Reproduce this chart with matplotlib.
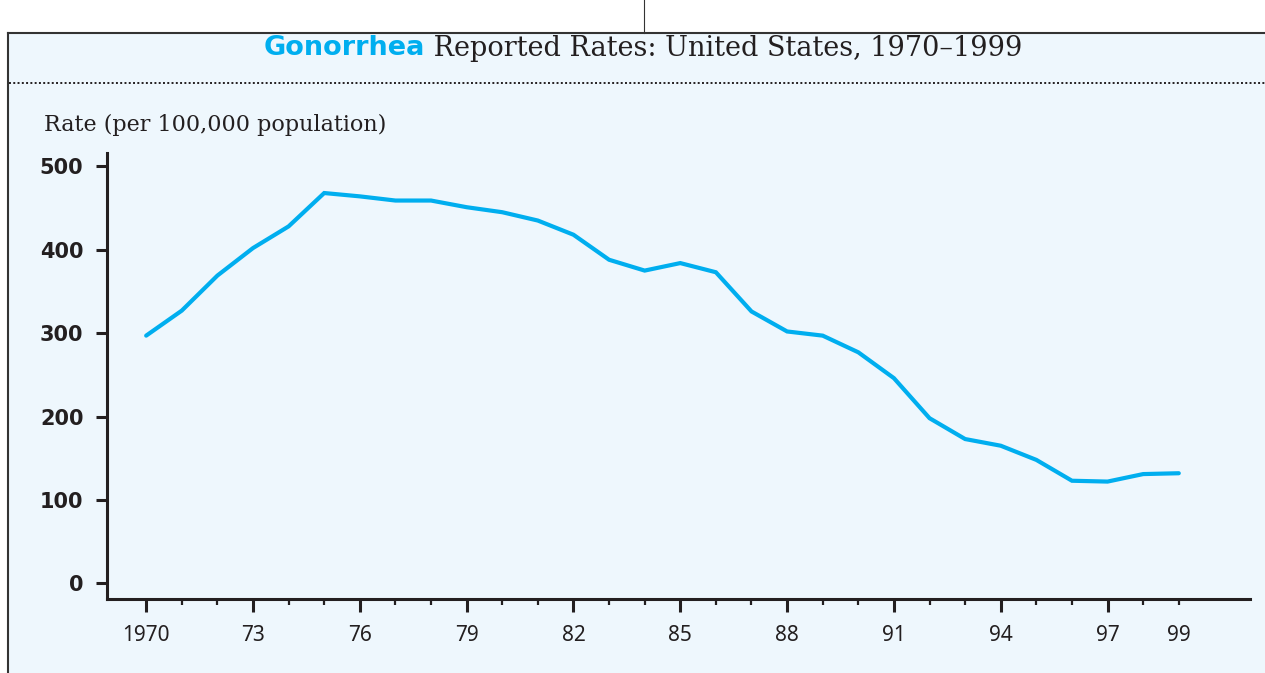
import numpy as np
import matplotlib.pyplot as plt
from matplotlib.lines import Line2D
from matplotlib.patches import Rectangle

# Gonorrhea reported rates per 100,000
years = np.arange(1970, 2000)
rates = [297, 327, 369, 402, 428, 468, 464, 459, 459, 451,
         445, 435, 418, 388, 375, 384, 373, 326, 302, 297,
         277, 246, 198, 173, 165, 148, 123, 122, 131, 132]

major_years = [1970, 1973, 1976, 1979, 1982, 1985, 1988, 1991, 1994, 1997]
major_labels = ['1970', '73', '76', '79', '82', '85', '88', '91', '94', '97']
minor_years = [y for y in years if y not in major_years]
minor_labels = ['99' if y == 1999 else '' for y in minor_years]
y_ticks = [0, 100, 200, 300, 400, 500]

bg = '#eef7fd'
ink = '#231f20'
cyan = '#00aeef'

W, H = 1265, 673
fig = plt.figure(figsize=(W / 100, H / 100), dpi=100)
fig.patch.set_facecolor('white')

# light-blue panel with a border on top and left
panel = Rectangle((9 / W, 0), 1, 1 - 34 / H, transform=fig.transFigure,
                  facecolor=bg, edgecolor='none', zorder=-10)
fig.add_artist(panel)
fig.add_artist(Line2D([8 / W, 1], [1 - 33 / H, 1 - 33 / H], transform=fig.transFigure,
                      color='#333333', lw=1.5))
fig.add_artist(Line2D([8 / W, 8 / W], [0, 1 - 33 / H], transform=fig.transFigure,
                      color='#333333', lw=1.5))
fig.add_artist(Line2D([644 / W, 644 / W], [1 - 33 / H, 1], transform=fig.transFigure,
                      color='#333333', lw=0.8))
# dotted rule under the title
fig.add_artist(Line2D([9 / W, 1], [1 - 83 / H, 1 - 83 / H], transform=fig.transFigure,
                      color=ink, lw=1.4, dashes=(1, 1.2)))

# title in two fonts, centred as a whole
renderer = fig.canvas.get_renderer()
t1 = fig.text(0, 1 - 48 / H, 'Gonorrhea', color=cyan, fontsize=19.5, fontweight='bold',
              family='DejaVu Sans', va='center', ha='left')
t2 = fig.text(0, 1 - 48 / H, ' Reported Rates: United States, 1970–1999', color=ink,
              fontsize=19.5, family='DejaVu Serif', va='center', ha='left')
w1 = t1.get_window_extent(renderer).width
w2 = t2.get_window_extent(renderer).width
x0 = 643 - (w1 + w2) / 2
t1.set_x(x0 / W)
t2.set_x((x0 + w1) / W)

fig.text(44 / W, 1 - 125 / H, 'Rate (per 100,000 population)', color=ink, fontsize=16,
         family='DejaVu Serif', va='center', ha='left')

ax = fig.add_axes([107 / W, 1 - 599 / H, (1250 - 107) / W, (599 - 153) / H])
ax.set_facecolor('none')
ax.plot(years, rates, color=cyan, lw=3, solid_capstyle='round', solid_joinstyle='miter')

ax.set_xlim(1968.9, 2001)
ax.set_ylim(-18.8, 516)

for s in ['top', 'right']:
    ax.spines[s].set_visible(False)
for s in ['left', 'bottom']:
    ax.spines[s].set_linewidth(2.2)
    ax.spines[s].set_color(ink)

ax.set_xticks(major_years, labels=major_labels)
ax.set_xticks(minor_years, labels=minor_labels, minor=True)
ax.set_yticks(y_ticks)

ax.tick_params(axis='x', which='major', length=9, width=2.2, color=ink, pad=10,
               labelsize=15, labelcolor=ink)
ax.tick_params(axis='x', which='minor', length=4.5, width=1.6, color=ink, pad=14.5,
               labelsize=15, labelcolor=ink)
ax.tick_params(axis='y', which='major', length=8, width=2.2, color=ink, pad=9,
               labelsize=15, labelcolor=ink)
for lab in ax.get_xticklabels() + ax.get_xticklabels(minor=True):
    lab.set_family('Noto Sans')
for lab in ax.get_yticklabels():
    lab.set_family('DejaVu Sans')
    lab.set_fontweight('bold')

fig.savefig('out.png', dpi=100, facecolor=fig.get_facecolor())
